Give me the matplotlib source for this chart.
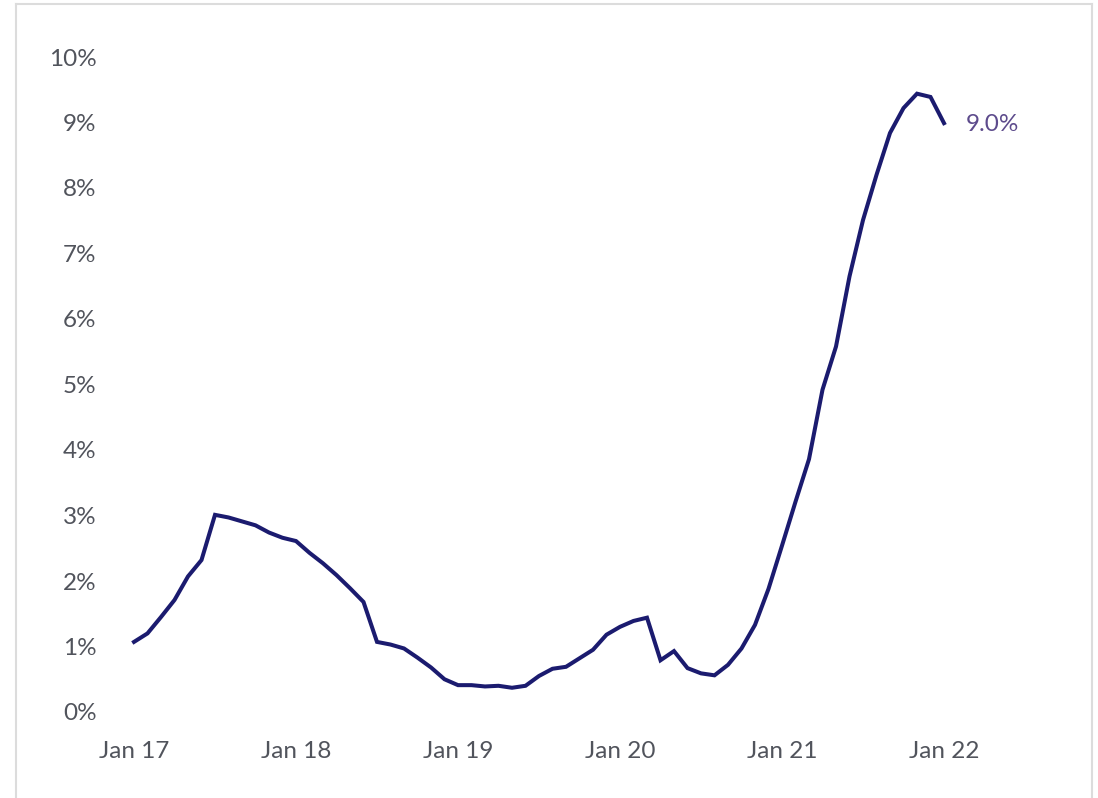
import matplotlib
matplotlib.use("Agg")
import matplotlib.pyplot as plt
import numpy as np
import pandas as pd
from matplotlib.lines import Line2D

# Monthly values, Jan 2017 .. Jan 2022 (percent)
values = [
    1.07, 1.20, 1.45, 1.71, 2.07, 2.32, 3.01, 2.97, 2.91, 2.85, 2.74, 2.66,   # 2017
    2.61, 2.43, 2.27, 2.09, 1.89, 1.68, 1.07, 1.03, 0.97, 0.83, 0.68, 0.50,   # 2018
    0.41, 0.41, 0.39, 0.40, 0.37, 0.40, 0.55, 0.66, 0.69, 0.82, 0.95, 1.18,   # 2019
    1.30, 1.39, 1.44, 0.79, 0.93, 0.67, 0.59, 0.56, 0.72, 0.97, 1.33, 1.88,   # 2020
    2.54, 3.21, 3.86, 4.92, 5.58, 6.65, 7.51, 8.20, 8.84, 9.22, 9.44, 9.39,   # 2021
    8.99,                                                                     # Jan 2022
]
dates = pd.date_range("2017-01-01", periods=len(values), freq="MS")
x_tick_labels = ["Jan 17", "Jan 18", "Jan 19", "Jan 20", "Jan 21", "Jan 22"]
y_ticks = list(range(0, 11))
y_tick_labels = [f"{v}%" for v in y_ticks]
end_label = "9.0%"

W, H = 1098, 798
fig = plt.figure(figsize=(W / 100, H / 100), dpi=100)
fig.patch.set_facecolor("white")

# card border (open at bottom)
border_c = "#dcdcdc"
fig.add_artist(Line2D([16 / W, 16 / W], [0, 1 - 4 / H], color=border_c, lw=1.5, transform=fig.transFigure))
fig.add_artist(Line2D([16 / W, 1092 / W], [1 - 4 / H, 1 - 4 / H], color=border_c, lw=1.5, transform=fig.transFigure))
fig.add_artist(Line2D([1092 / W, 1092 / W], [0, 1 - 4 / H], color=border_c, lw=1.5, transform=fig.transFigure))

left, right, top, bottom = 134, 944, 57, 712
ax = fig.add_axes([left / W, 1 - bottom / H, (right - left) / W, (bottom - top) / H])

xi = np.arange(len(values))
ax.plot(xi, values, color="#1b1b6f", lw=2.9, solid_joinstyle="miter", clip_on=False)

ax.set_xlim(0, len(values) - 1)
ax.set_ylim(0, 10)

tick_pos = [i for i, d in enumerate(dates) if d.month == 1]
ax.set_xticks(tick_pos)
ax.set_xticklabels(x_tick_labels)
ax.set_yticks(y_ticks)
ax.set_yticklabels(y_tick_labels)

font = "Lato"
fsize = 17.5
tick_color = "#51545c"
for lab in ax.get_xticklabels() + ax.get_yticklabels():
    lab.set_fontfamily(font)
    lab.set_fontsize(fsize)
    lab.set_color(tick_color)

ax.tick_params(axis="y", length=0, pad=27)
ax.tick_params(axis="x", length=0, pad=21)
for s in ax.spines.values():
    s.set_visible(False)

ax.annotate(end_label, xy=(xi[-1], values[-1]), xytext=(16, -1), textcoords="offset points",
            ha="left", va="center", fontsize=fsize, fontfamily=font, color="#5d4b8c")

fig.savefig("out.png", dpi=100, facecolor="white")
